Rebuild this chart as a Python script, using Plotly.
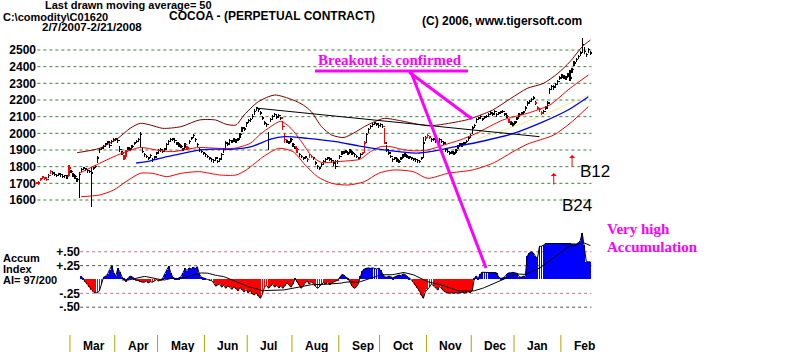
import pandas as pd
import plotly.graph_objects as go

# ---------------- data ----------------
dates = pd.bdate_range("2007-02-07", "2008-02-21")
N = len(dates)
idx = list(range(N))

close = [
    1700, 1725, 1735, 1730, 1720, 1745, 1770, 1760, 1750, 1745,
    1755, 1750, 1740, 1745, 1740, 1790, 1770, 1750, 1740, 1720,
    1750, 1780, 1790, 1785, 1775, 1770, 1760, 1790, 1800, 1850,
    1900, 1910, 1920, 1935, 1945, 1925, 1950, 1960, 1965, 1955,
    1900, 1880, 1850, 1890, 1910, 1905, 1920, 1940, 1950, 1960,
    1990, 1890, 1870, 1860, 1850, 1865, 1840, 1855, 1880, 1895,
    1900, 1890, 1905, 1930, 1950, 1960, 1965, 1955, 1940, 1930,
    1920, 1905, 1930, 1910, 1950, 1970, 1985, 1960, 1930, 1900,
    1890, 1880, 1870, 1860, 1850, 1840, 1835, 1850, 1830, 1845,
    1870, 1900, 1940, 1935, 1955, 1950, 1960, 1955, 1965, 1990,
    2030, 2025, 2060, 2075, 2080, 2100, 2130, 2150, 2140, 2120,
    2090, 2060, 2050, 1960, 2080, 2100, 2110, 2095, 2105, 2090,
    2040, 1960, 1950, 1945, 1960, 1930, 1915, 1900, 1870, 1860,
    1850, 1855, 1840, 1870, 1860, 1850, 1820, 1800, 1790, 1810,
    1830, 1840, 1850, 1845, 1835, 1820, 1800, 1830, 1860, 1880,
    1885, 1890, 1880, 1895, 1880, 1870, 1860, 1850, 1870, 1880,
    1940, 1990, 2020, 2040, 2050, 2060, 2055, 2045, 2050, 2040,
    1940, 1900, 1880, 1860, 1840, 1850, 1840, 1830, 1850, 1865,
    1870, 1860, 1855, 1850, 1845, 1840, 1835, 1830, 1850, 1940,
    1970, 1985, 1975, 1960, 1965, 1950, 1945, 1960, 1950, 1940,
    1900, 1890, 1880, 1885, 1880, 1895, 1920, 1935, 1930, 1940,
    1950, 1970, 1985, 2030, 2045, 2080, 2090, 2100, 2085, 2095,
    2100, 2110, 2120, 2115, 2130, 2110, 2120, 2125, 2130, 2115,
    2100, 2070, 2060, 2050, 2065, 2090, 2110, 2120, 2125, 2150,
    2180, 2190, 2200, 2210, 2180, 2150, 2140, 2120, 2130, 2150,
    2180, 2260, 2280, 2275, 2290, 2310, 2330, 2345, 2340, 2335,
    2350, 2330, 2380, 2420, 2440, 2460, 2480, 2530, 2490, 2470,
    2500, 2480,
]
high = [
    1712, 1735, 1742, 1738, 1730, 1755, 1780, 1768, 1758, 1752,
    1765, 1758, 1750, 1752, 1748, 1812, 1780, 1762, 1748, 1732,
    1770, 1790, 1800, 1795, 1785, 1780, 1800, 1798, 1810, 1865,
    1912, 1920, 1930, 1945, 1955, 1938, 1960, 1970, 1975, 1965,
    1925, 1895, 1870, 1900, 1920, 1915, 1930, 1950, 1960, 1972,
    2010, 1915, 1880, 1870, 1860, 1875, 1852, 1865, 1890, 1905,
    1910, 1900, 1915, 1940, 1960, 1970, 1975, 1965, 1950, 1940,
    1930, 1915, 1940, 1925, 1960, 1980, 1995, 1975, 1945, 1915,
    1900, 1890, 1880, 1870, 1860, 1850, 1845, 1860, 1842, 1855,
    1880, 1915, 1955, 1945, 1965, 1960, 1970, 1965, 1975, 2005,
    2040, 2038, 2070, 2085, 2090, 2115, 2145, 2160, 2152, 2132,
    2102, 2075, 2062, 2010, 2090, 2110, 2120, 2108, 2115, 2100,
    2075, 2000, 1962, 1955, 1970, 1945, 1925, 1912, 1885, 1870,
    1860, 1865, 1850, 1878, 1870, 1860, 1832, 1812, 1800, 1820,
    1840, 1850, 1860, 1855, 1845, 1832, 1840, 1842, 1870, 1892,
    1895, 1900, 1890, 1905, 1892, 1880, 1870, 1860, 1880, 1890,
    1955, 2005, 2030, 2050, 2060, 2070, 2065, 2055, 2060, 2052,
    2030, 1930, 1892, 1872, 1852, 1860, 1850, 1840, 1860, 1875,
    1880, 1870, 1865, 1860, 1855, 1850, 1845, 1840, 1860, 1980,
    1985, 1995, 1985, 1970, 1975, 1962, 1955, 1970, 1960, 1950,
    1915, 1900, 1890, 1895, 1890, 1905, 1930, 1945, 1940, 1950,
    1960, 1982, 1995, 2042, 2055, 2090, 2100, 2110, 2095, 2105,
    2110, 2120, 2132, 2125, 2140, 2122, 2130, 2135, 2140, 2125,
    2110, 2085, 2072, 2062, 2075, 2100, 2120, 2130, 2135, 2162,
    2192, 2202, 2215, 2222, 2195, 2165, 2152, 2132, 2140, 2162,
    2195, 2272, 2292, 2288, 2302, 2322, 2342, 2355, 2352, 2345,
    2362, 2380, 2392, 2432, 2452, 2472, 2495, 2570, 2520, 2485,
    2512, 2495,
]
low = [
    1690, 1712, 1725, 1722, 1712, 1732, 1755, 1750, 1742, 1736,
    1745, 1740, 1732, 1735, 1728, 1745, 1760, 1740, 1728, 1710,
    1610, 1768, 1780, 1775, 1765, 1760, 1560, 1780, 1790, 1820,
    1880, 1898, 1910, 1922, 1935, 1915, 1938, 1950, 1955, 1945,
    1890, 1870, 1840, 1860, 1898, 1895, 1910, 1928, 1940, 1948,
    1915, 1880, 1860, 1850, 1840, 1852, 1830, 1845, 1868, 1885,
    1890, 1880, 1892, 1915, 1938, 1950, 1955, 1945, 1930, 1920,
    1910, 1895, 1915, 1900, 1935, 1958, 1972, 1950, 1920, 1890,
    1880, 1870, 1860, 1850, 1840, 1830, 1825, 1838, 1820, 1832,
    1850, 1880, 1910, 1925, 1940, 1940, 1950, 1945, 1955, 1970,
    2010, 2015, 2040, 2062, 2070, 2085, 2110, 2135, 2130, 2108,
    2078, 2048, 2038, 1900, 2068, 2088, 2100, 2085, 2095, 2078,
    2020, 1945, 1940, 1935, 1948, 1918, 1905, 1885, 1858, 1850,
    1840, 1845, 1830, 1850, 1850, 1838, 1808, 1785, 1778, 1798,
    1818, 1830, 1840, 1835, 1825, 1805, 1785, 1815, 1845, 1868,
    1875, 1880, 1870, 1885, 1870, 1860, 1850, 1840, 1855, 1868,
    1885, 1940, 2000, 2025, 2040, 2048, 2045, 2035, 2040, 2030,
    1935, 1890, 1870, 1850, 1830, 1840, 1830, 1820, 1838, 1855,
    1860, 1850, 1845, 1840, 1835, 1830, 1825, 1820, 1838, 1850,
    1955, 1972, 1965, 1950, 1955, 1940, 1935, 1948, 1940, 1928,
    1890, 1880, 1870, 1875, 1870, 1882, 1905, 1925, 1920, 1930,
    1940, 1955, 1972, 1995, 2032, 2060, 2078, 2088, 2075, 2085,
    2090, 2100, 2110, 2105, 2118, 2100, 2110, 2115, 2120, 2105,
    2090, 2060, 2048, 2040, 2055, 2078, 2098, 2110, 2115, 2135,
    2165, 2178, 2188, 2198, 2168, 2138, 2128, 2108, 2120, 2138,
    2160, 2235, 2265, 2262, 2278, 2295, 2318, 2332, 2328, 2322,
    2338, 2315, 2360, 2405, 2428, 2448, 2465, 2485, 2478, 2458,
    2485, 2468,
]
red_bars = [0, 1, 2, 3, 4, 6, 15, 42, 43, 73, 120, 121, 127, 133, 134,
            160, 170, 191, 192, 231, 245, 246, 247]

# band lines (trading-day index, price)
upper_idx = [19, 30, 39, 45, 50, 55, 61, 70, 79, 87, 92, 97, 101, 108, 116, 125, 130, 134, 139, 144,
             150, 156, 160, 167, 170, 178, 186, 192, 199, 210, 215, 223, 232, 240, 248, 255, 261, 267, 271]
upper_val = [1884, 1910, 1970, 2030, 2060, 2050, 2030, 2040, 2080, 2080, 2055, 2050, 2110, 2190, 2230,
             2200, 2170, 2130, 2040, 1990, 1975, 2010, 2040, 2080, 2090, 2075, 2055, 2045, 2055, 2080,
             2100, 2140, 2210, 2270, 2300, 2360, 2430, 2520, 2560]
mid_idx = [20, 30, 37, 43, 50, 58, 66, 73, 79, 88, 96, 104, 109, 114, 119, 124, 130, 134, 139, 146,
           152, 158, 163, 168, 173, 178, 184, 191, 199, 207, 215, 228, 240, 251, 261, 270]
mid_val = [1760, 1820, 1860, 1890, 1915, 1900, 1890, 1905, 1915, 1910, 1910, 1940, 1995, 2040, 2072,
           2030, 1935, 1865, 1825, 1830, 1835, 1845, 1890, 1920, 1920, 1905, 1895, 1900, 1930, 1960,
           2000, 2080, 2120, 2170, 2270, 2350]
lower_idx = [21, 30, 37, 43, 50, 56, 63, 70, 79, 89, 97, 102, 111, 118, 125, 131, 137, 144, 152, 160,
             167, 174, 184, 191, 201, 213, 223, 233, 240, 253, 261, 270]
lower_val = [1620, 1630, 1660, 1710, 1760, 1760, 1740, 1760, 1770, 1750, 1750, 1780, 1865, 1910, 1890,
             1810, 1740, 1700, 1690, 1710, 1760, 1780, 1770, 1730, 1760, 1780, 1820, 1890, 1935, 1990,
             2060, 2160]
ma50_idx = [48, 55, 63, 71, 78, 86, 96, 105, 114, 121, 132, 146, 157, 167, 177, 187, 199, 207, 215,
            232, 240, 248, 260, 270]
ma50_val = [1822, 1835, 1860, 1880, 1898, 1905, 1905, 1922, 1965, 1980, 1970, 1950, 1925, 1905, 1890,
            1882, 1905, 1925, 1945, 1995, 2030, 2070, 2140, 2220]
yellow_idx = [215, 232, 246, 260, 270]
yellow_val = [1965, 2035, 2100, 2175, 2228]
trend_idx = [108, 246]
trend_val = [2150, 1980]

# accumulation index (starts at trading day 21)
ai_start = 21
ai = [
    0.06, 0.02, -0.04, -0.09, -0.14, -0.19, -0.22, -0.24, -0.24, -0.20,
    -0.08, 0.04, 0.06, 0.10, 0.18, 0.25, 0.12, 0.06, 0.20, 0.14,
    0.05, 0.01, -0.04, 0.02, 0.06, 0.05, 0.02, -0.01, -0.02, -0.04,
    -0.05, -0.05, -0.03, -0.06, -0.04, -0.05, -0.02, 0.0, -0.03, -0.01,
    0.02, 0.10, 0.18, 0.24, 0.12, 0.04, 0.02, 0.01, 0.03, 0.05,
    0.12, 0.20, 0.16, 0.21, 0.19, 0.22, 0.20, 0.23, 0.10, 0.04,
    0.03, 0.01, 0.00, -0.01, -0.02, -0.06, -0.12, -0.10, -0.08, -0.14,
    -0.10, -0.16, -0.12, -0.14, -0.18, -0.13, -0.17, -0.20, -0.15, -0.19,
    -0.22, -0.18, -0.24, -0.20, -0.26, -0.28, -0.24, -0.30, -0.34, -0.26,
    -0.14, -0.10, -0.16, -0.12, -0.08, -0.14, -0.10, -0.15, -0.12, -0.16,
    -0.11, -0.06, -0.10, -0.14, -0.08, 0.02, -0.04, -0.10, -0.16, -0.12,
    -0.06, -0.03, -0.08, -0.05, -0.07, -0.12, -0.16, -0.13, -0.08, -0.06,
    -0.08, -0.04, -0.10, -0.06, -0.05, -0.03, -0.01, 0.05, 0.09, 0.08,
    0.04, 0.02, -0.05, -0.12, -0.16, -0.14, -0.08, 0.06, 0.15, 0.19,
    0.20, 0.21, 0.20, 0.21, 0.20, 0.19, 0.20, 0.17, 0.10, 0.05,
    0.04, 0.06, 0.05, 0.03, 0.05, 0.06, 0.08, 0.07, 0.10, 0.09,
    0.06, 0.02, 0.00, -0.05, -0.10, -0.16, -0.20, -0.28, -0.34, -0.22,
    -0.18, -0.14, -0.08, -0.12, -0.15, -0.19, -0.12, -0.17, -0.21, -0.23,
    -0.24, -0.25, -0.24, -0.25, -0.24, -0.25, -0.24, -0.23, -0.25, -0.24,
    -0.22, -0.24, -0.20, 0.02, 0.06, 0.03, 0.10, 0.13, 0.13, 0.13,
    0.13, 0.13, 0.13, 0.13, 0.12, 0.04, 0.02, 0.03, 0.05, 0.10,
    0.12, 0.12, 0.13, 0.12, 0.11, 0.05, 0.04, 0.06, 0.05, 0.42,
    0.48, 0.50, 0.48, 0.42, 0.38, 0.60, 0.60, 0.62, 0.65, 0.65,
    0.65, 0.65, 0.65, 0.65, 0.65, 0.65, 0.65, 0.65, 0.65, 0.65,
    0.65, 0.64, 0.64, 0.64, 0.66, 0.70, 0.84, 0.62, 0.32, 0.32, 0.32,
]
ai_idx = list(range(ai_start, ai_start + len(ai)))

sig_idx = [253, 262]
sig_price = [1762, 1870]
sig_text = ["B24", "B12"]

price_ticks = [1600, 1700, 1800, 1900, 2000, 2100, 2200, 2300, 2400, 2500]
ai_ticks = [0.5, 0.25, -0.25, -0.5]
ai_ticktext = ["+.50", "+.25", "-.25", "-.50"]

# ---------------- figure ----------------
W, H = 800, 352
FONT = "Liberation Sans"
TICK_H = 4  # thickness of open/close ticks in price units (drawn as 1 px)


def px(x):
    return x / W


def py(y):
    return 1 - y / H


opens = [close[0]] + close[:-1]

fig = go.Figure()

# accumulation index histogram: positive (blue) and negative (red)
for sign, col in ((1, "#0000ff"), (-1, "#ff0000")):
    xs = [i for i, v in zip(ai_idx, ai) if (v >= 0) == (sign > 0)]
    ys = [v for v in ai if (v >= 0) == (sign > 0)]
    fig.add_trace(go.Bar(x=xs, y=ys, width=0.45, yaxis="y2",
                         marker=dict(color=col, line=dict(width=0)),
                         showlegend=False, hoverinfo="skip"))
fig.add_trace(go.Scatter(x=ai_idx, y=ai, mode="lines", line=dict(color="black", width=1),
                         yaxis="y2", showlegend=False, hoverinfo="skip"))
ai_ma = pd.Series(ai).rolling(21).mean().tolist()
fig.add_trace(go.Scatter(x=ai_idx, y=ai_ma, mode="lines", line=dict(color="black", width=1),
                         yaxis="y2", showlegend=False, hoverinfo="skip"))

line_specs = [
    (yellow_idx, yellow_val, "#eeee90", 1),
    (upper_idx, upper_val, "#800000", 1),
    (mid_idx, mid_val, "#ff0000", 1),
    (lower_idx, lower_val, "#ff0000", 1),
    (ma50_idx, ma50_val, "#0000ff", 1.3),
]
for xs, ys, col, w in line_specs:
    fig.add_trace(go.Scatter(x=xs, y=ys, mode="lines",
                             line=dict(color=col, width=w, shape="spline", smoothing=0.7),
                             showlegend=False, hoverinfo="skip"))
fig.add_trace(go.Scatter(x=trend_idx, y=trend_val, mode="lines",
                         line=dict(color="black", width=1), showlegend=False, hoverinfo="skip"))

# daily bars: high-low line + open (left) and close (right) ticks, as crisp thin bars
for sel, col in (([i for i in idx if i not in red_bars], "black"), (red_bars, "#ff0000")):
    fig.add_trace(go.Bar(x=sel, y=[high[i] - low[i] for i in sel], base=[low[i] for i in sel],
                         width=0.12, marker=dict(color=col, line=dict(width=0)),
                         showlegend=False, hoverinfo="skip"))
    fig.add_trace(go.Bar(x=sel, y=[TICK_H] * len(sel), base=[close[i] for i in sel],
                         width=0.8, offset=0.02, marker=dict(color=col, line=dict(width=0)),
                         showlegend=False, hoverinfo="skip"))
    fig.add_trace(go.Bar(x=sel, y=[TICK_H] * len(sel), base=[opens[i] for i in sel],
                         width=0.8, offset=-0.82, marker=dict(color=col, line=dict(width=0)),
                         showlegend=False, hoverinfo="skip"))

shapes = []
for t in price_ticks:
    shapes.append(dict(type="line", xref="x", yref="y", x0=-0.5, x1=N - 0.5, y0=t, y1=t,
                       line=dict(color="#3f7f3f", width=1, dash="dot"), layer="below"))
for t in ai_ticks:
    col = "#c07080" if t in (0.5, -0.25) else "#505050"
    shapes.append(dict(type="line", xref="x", yref="y2", x0=ai_start - 0.5, x1=N - 0.5, y0=t, y1=t,
                       line=dict(color=col, width=1, dash="dot"), layer="below"))

# month separators and labels
annotations = []
for i in range(1, N):
    if dates[i].month != dates[i - 1].month:
        shapes.append(dict(type="line", xref="x", yref="paper", x0=i - 0.5, x1=i - 0.5,
                           y0=0, y1=py(335), line=dict(color="#a8a800", width=1)))
        annotations.append(dict(x=i - 0.5, y=py(346), xref="x", yref="paper", xanchor="left",
                                yanchor="middle", xshift=11, showarrow=False,
                                text=dates[i].strftime("%b"),
                                font=dict(family=FONT, size=12, color="black", weight="bold")))

# magenta callouts
MAG = "#ff00ff"
for (x0, y0, x1, y1) in [(315, 71, 468, 71), (409, 72, 472, 119), (411, 72, 486, 268)]:
    shapes.append(dict(type="line", xref="paper", yref="paper", x0=px(x0), y0=py(y0),
                       x1=px(x1), y1=py(y1), line=dict(color=MAG, width=3)))


def text(x, y, s, size=12, anchor="left", color="black", family=FONT, weight="bold"):
    annotations.append(dict(x=px(x), y=py(y), xref="paper", yref="paper", xanchor=anchor,
                            yanchor="middle", showarrow=False, text=s, borderpad=0,
                            font=dict(family=family, size=size, color=color, weight=weight)))


text(128, 5, "Last drawn moving average= 50", size=11, anchor="center")
text(2, 16.5, "C:\\comodity\\C01620", size=11)
text(168, 16, "COCOA - (PERPETUAL CONTRACT)", size=12)
text(92, 27, "2/7/2007-2/21/2008", size=11.5, anchor="center")
text(502, 21, "(C) 2006, www.tigersoft.com", anchor="center")
text(2, 258, "Accum", size=11)
text(2, 269, "Index", size=11)
text(2, 280, "AI= 97/200", size=11)
text(390, 60, "Breakout is confirmed", size=15, anchor="center", color=MAG,
     family="Liberation Serif")
text(606, 229, "Very high", size=15, color=MAG, family="Liberation Serif")
text(606, 247, "Accumulation", size=15, color=MAG, family="Liberation Serif")

# buy signals
for si, sp, st, dx, dy in zip(sig_idx, sig_price, sig_text, [23, 23], [32, 16]):
    annotations.append(dict(x=si, y=sp, xref="x", yref="y", ax=0, ay=13, showarrow=True,
                            arrowhead=1, arrowsize=1, arrowwidth=1, arrowcolor="#ff0000", text=""))
    annotations.append(dict(x=si, y=sp, xref="x", yref="y", xshift=dx, yshift=-dy,
                            showarrow=False, text=st, xanchor="center", yanchor="middle",
                            font=dict(family=FONT, size=17, color="black")))

fig.update_layout(
    width=W, height=H, margin=dict(l=0, r=0, t=0, b=0, pad=0),
    paper_bgcolor="white", plot_bgcolor="white", showlegend=False,
    barmode="overlay", bargap=0,
    shapes=shapes, annotations=annotations,
    xaxis=dict(range=[-18.85, 373.9], showticklabels=False, showgrid=False, zeroline=False,
               showline=False, ticks="", automargin=False, fixedrange=True),
    yaxis=dict(range=[688, 2800], anchor="free", position=0.045, side="left",
               tickvals=price_ticks, ticktext=[str(t) for t in price_ticks],
               tickfont=dict(family=FONT, size=12, color="black", weight="bold"),
               showgrid=False, zeroline=False, showline=False, ticks="", automargin=False),
    yaxis2=dict(range=[-1.309, 5.045], overlaying="y", anchor="free", position=0.1, side="left",
                tickvals=ai_ticks, ticktext=ai_ticktext,
                tickfont=dict(family=FONT, size=12, color="black", weight="bold"),
                showgrid=False, zeroline=False, showline=False, ticks="", automargin=False),
)

fig.write_html("out.html")
